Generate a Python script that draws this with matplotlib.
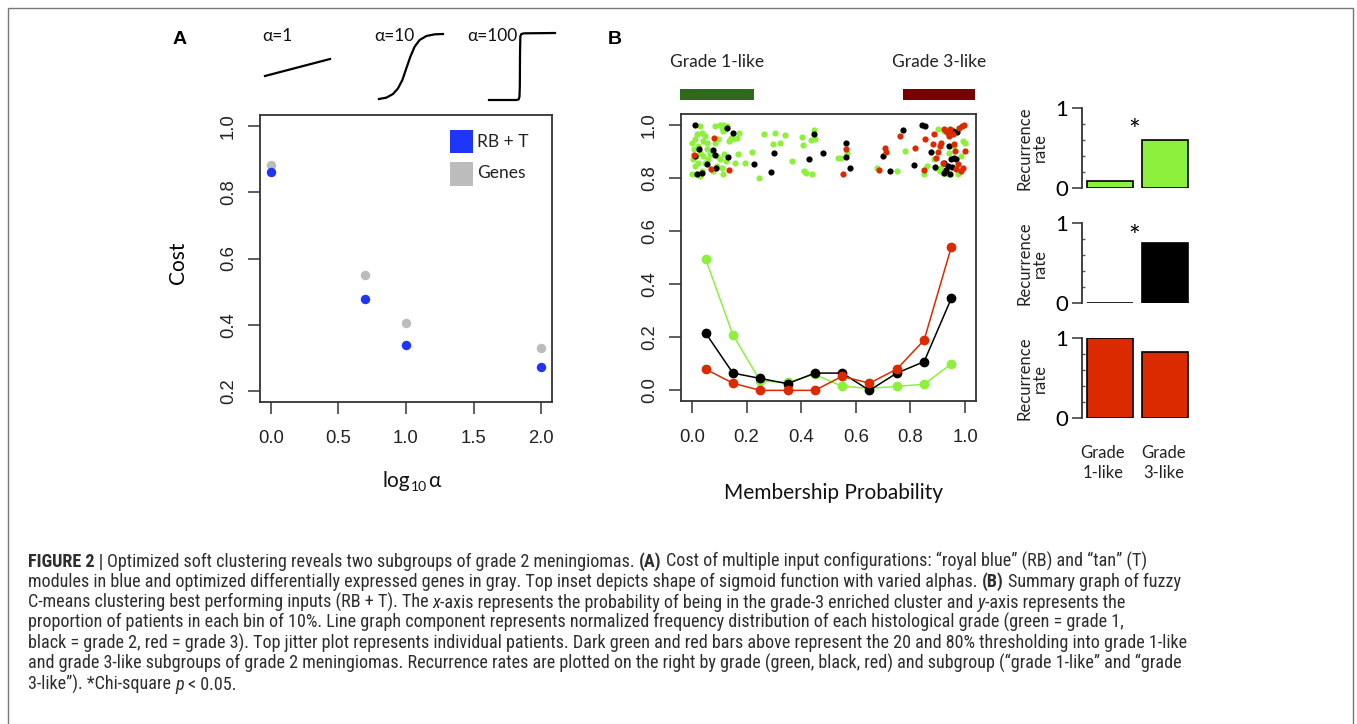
import matplotlib
matplotlib.use('Agg')
import matplotlib.pyplot as plt
import matplotlib.transforms as mtransforms
from matplotlib.patches import Rectangle
from matplotlib import font_manager

# ---------------- data ----------------
# panel A: cost vs log10(alpha), alpha = 1, 5, 10, 100
log_alpha = [0.0, 0.699, 1.0, 2.0]
cost_rbt = [0.86, 0.477, 0.34, 0.272]
cost_genes = [0.882, 0.55, 0.407, 0.33]

# sigmoid shape insets (normalised)
sig1_x = [0.0, 1.0]
sig1_y = [0.0, 1.0]
sig10_x = [0.0, 0.115, 0.219, 0.297, 0.365, 0.427, 0.49, 0.557, 0.635, 0.74, 0.87, 1.0]
sig10_y = [0.0, 0.021, 0.077, 0.164, 0.292, 0.472, 0.651, 0.805, 0.908, 0.969, 0.995, 1.0]
sig100_x = [0.0, 0.416, 0.45, 0.462, 0.467, 0.47, 0.475, 0.49, 0.53, 1.0]
sig100_y = [0.0, 0.0, 0.01, 0.05, 0.2, 0.7, 0.95, 0.985, 0.995, 1.0]
alpha_labels = ['α=1', 'α=10', 'α=100']

# panel B: normalised frequency per 10% bin
bins = [0.05, 0.15, 0.25, 0.35, 0.45, 0.55, 0.65, 0.75, 0.85, 0.95]
freq_g1 = [0.495, 0.209, 0.035, 0.03, 0.06, 0.015, 0.008, 0.015, 0.023, 0.10]
freq_g2 = [0.216, 0.065, 0.045, 0.025, 0.065, 0.065, 0.0, 0.065, 0.108, 0.347]
freq_g3 = [0.08, 0.027, 0.0, 0.0, 0.0, 0.053, 0.027, 0.08, 0.189, 0.541]

# jitter: individual patients (membership probability, jittered height)
jit_g1_x = [0.002, 0.007, 0.011, 0.017, 0.023, 0.029, 0.005, 0.011, 0.017, 0.002, 0.029, 0.036,
            0.042, 0.029, 0.036, 0.048, 0.054, 0.042, 0.048, 0.054, 0.060, 0.066, 0.023, 0.015,
            0.085, 0.103, 0.109, 0.115, 0.121, 0.113, 0.127, 0.097, 0.085, 0.078, 0.091, 0.103,
            0.118, 0.125, 0.091, 0.109, 0.115, 0.078, 0.134, 0.142, 0.152, 0.164, 0.174, 0.158,
            0.167, 0.195, 0.219, 0.244, 0.265, 0.297, 0.303, 0.324, 0.342, 0.366, 0.403, 0.407,
            0.412, 0.419, 0.440, 0.436, 0.446, 0.449, 0.544, 0.569, 0.536, 0.679, 0.752, 0.779,
            0.850, 0.860, 0.887, 0.912, 0.924, 0.936, 0.942, 0.961, 0.975, 0.985, 0.991, 0.998,
            0.961, 0.918, 0.909, 0.900, 0.893]
jit_g1_y = [0.932, 0.907, 0.945, 0.964, 0.919, 0.894, 0.869, 0.844, 0.813, 0.813, 0.806, 0.825,
            0.938, 0.995, 0.970, 0.957, 0.932, 0.882, 0.857, 0.907, 0.869, 0.888, 0.857, 0.882,
            0.995, 1.000, 0.989, 0.997, 0.982, 0.976, 0.995, 0.945, 0.932, 0.894, 0.882, 0.869,
            0.888, 0.863, 0.844, 0.838, 0.813, 0.825, 0.938, 0.951, 0.945, 0.951, 0.967, 0.857,
            0.888, 0.854, 0.897, 0.800, 0.966, 0.927, 0.970, 0.932, 0.961, 0.865, 0.955, 0.922,
            0.825, 0.819, 0.813, 0.942, 0.980, 0.947, 0.875, 0.894, 0.875, 0.838, 0.825, 0.901,
            0.813, 0.844, 0.869, 0.838, 0.976, 0.813, 0.894, 0.919, 0.813, 0.882, 0.938, 0.932,
            0.976, 0.819, 0.825, 0.982, 0.838]
jit_g2_x = [0.010, 0.025, 0.017, 0.037, 0.011, 0.056, 0.078, 0.086, 0.088, 0.127, 0.150, 0.131,
            0.229, 0.290, 0.299, 0.428, 0.446, 0.480, 0.563, 0.565, 0.578, 0.701, 0.725, 0.771,
            0.844, 0.853, 0.814, 0.875, 0.890, 0.924, 0.930, 0.936, 0.942, 0.949, 0.955, 0.961,
            0.971, 0.967, 0.951, 0.924, 0.946]
jit_g2_y = [0.997, 0.907, 0.816, 0.819, 0.882, 0.850, 0.904, 0.884, 0.838, 0.989, 0.970, 0.878,
            0.850, 0.823, 0.894, 0.872, 0.964, 0.892, 0.932, 0.879, 0.836, 0.882, 0.825, 0.979,
            1.000, 0.995, 0.848, 0.898, 0.842, 0.819, 0.831, 0.844, 0.919, 0.869, 0.976, 0.875,
            0.972, 0.869, 0.842, 0.857, 0.816]
jit_g3_x = [0.009, 0.070, 0.081, 0.134, 0.554, 0.563, 0.706, 0.710, 0.685, 0.762, 0.816, 0.850,
            0.854, 0.881, 0.885, 0.893, 0.902, 0.909, 0.918, 0.924, 0.930, 0.936, 0.942, 0.955,
            0.958, 0.963, 0.973, 0.979, 0.988, 0.995, 0.998, 0.991, 0.985, 0.912, 0.946, 0.967]
jit_g3_y = [0.884, 0.834, 0.951, 0.829, 0.813, 0.909, 0.913, 0.897, 0.828, 0.957, 0.913, 0.831,
            0.947, 0.926, 0.964, 0.875, 0.897, 0.919, 0.857, 0.982, 0.976, 0.970, 0.957, 0.964,
            0.926, 0.901, 0.850, 0.989, 0.995, 1.000, 0.901, 0.838, 0.825, 0.932, 0.985, 0.834]

# thresholded subgroups shown as bars above panel B
subgroup_names = ['Grade 1-like', 'Grade 3-like']
subgroup_span = [(-0.045, 0.228), (0.772, 1.037)]

# recurrence rates per grade and subgroup
subgroup_ticks = ['Grade\n1-like', 'Grade\n3-like']
recur_g1 = [0.088, 0.60]
recur_g2 = [0.0, 0.75]
recur_g3 = [1.0, 0.825]
recur_signif = [True, True, False]

caption = [
    [("FIGURE 2 |", 'bold', 'normal'),
     (" Optimized soft clustering reveals two subgroups of grade 2 meningiomas. ", 'normal', 'normal'),
     ("(A)", 'bold', 'normal'),
     (" Cost of multiple input configurations: \u201croyal blue\u201d (RB) and \u201ctan\u201d (T)", 'normal', 'normal')],
    [("modules in blue and optimized differentially expressed genes in gray. Top inset depicts shape of sigmoid function with varied alphas. ", 'normal', 'normal'),
     ("(B)", 'bold', 'normal'),
     (" Summary graph of fuzzy", 'normal', 'normal')],
    [("C-means clustering best performing inputs (RB + T). The ", 'normal', 'normal'),
     ("x", 'normal', 'italic'),
     ("-axis represents the probability of being in the grade-3 enriched cluster and ", 'normal', 'normal'),
     ("y", 'normal', 'italic'),
     ("-axis represents the", 'normal', 'normal')],
    [("proportion of patients in each bin of 10%. Line graph component represents normalized frequency distribution of each histological grade (green = grade 1,", 'normal', 'normal')],
    [("black = grade 2, red = grade 3). Top jitter plot represents individual patients. Dark green and red bars above represent the 20 and 80% thresholding into grade 1-like", 'normal', 'normal')],
    [("and grade 3-like subgroups of grade 2 meningiomas. Recurrence rates are plotted on the right by grade (green, black, red) and subgroup (\u201cgrade 1-like\u201d and \u201cgrade", 'normal', 'normal')],
    [("3-like\u201d). *Chi-square ", 'normal', 'normal'),
     ("p", 'normal', 'italic'),
     (" < 0.05.", 'normal', 'normal')],
]

# ---------------- style ----------------
GREEN = '#8cf03c'
RED = '#dc2a00'
BLUE = '#1f35f8'
GRAY = '#bcbcbc'
DKGREEN = '#2f6a1c'
DKRED = '#780000'
AXC = '#333333'
LABEL_FONT = ['Lato', 'DejaVu Sans']
TICK_FONT = 'Liberation Sans'

W, H = 1357, 724
fig = plt.figure(figsize=(W / 100, H / 100), dpi=100)
renderer = fig.canvas.get_renderer()


def px_axes(left, top, right, bottom):
    return fig.add_axes([left / W, 1 - bottom / H, (right - left) / W, (bottom - top) / H])


def ftext(x, y, s, **kw):
    return fig.text(x / W, 1 - y / H, s, **kw)


def r_axes(ax):
    for sp in ax.spines.values():
        sp.set_color(AXC)
        sp.set_linewidth(1.3)
    ax.tick_params(direction='out', length=8.5, width=1.1, color=AXC, pad=8,
                   labelsize=13.3, labelcolor='#222222')
    ax.tick_params(axis='x', pad=12)
    for lab in ax.get_xticklabels() + ax.get_yticklabels():
        lab.set_family(TICK_FONT)
    for lab in ax.get_yticklabels():
        lab.set_rotation(90)
        lab.set_va('center')


def draw_runs(x, y, runs, size, family, color, va='baseline'):
    probe = dict(fontsize=size, family=family)
    for txt, weight, style in runs:
        a = fig.text(0, 0, 'x x', fontweight=weight, fontstyle=style, **probe)
        b = fig.text(0, 0, 'xx', fontweight=weight, fontstyle=style, **probe)
        sw = a.get_window_extent(renderer).width - b.get_window_extent(renderer).width
        a.remove()
        b.remove()
        lead = len(txt) - len(txt.lstrip(' '))
        trail = len(txt) - len(txt.rstrip(' '))
        core = txt.strip(' ')
        x += lead * sw
        t = ftext(x, y, core, fontweight=weight, fontstyle=style, color=color, ha='left', va=va, **probe)
        x += t.get_window_extent(renderer).width + trail * sw
    return x


# ---------------- panel A ----------------
ftext(180, 40, 'A', fontsize=14, fontweight='bold', family=TICK_FONT, ha='center', va='center')

inset_boxes = [(265, 59, 330, 76), (379, 34, 443, 99), (489, 33, 555, 100)]
inset_curves = [(sig1_x, sig1_y), (sig10_x, sig10_y), (sig100_x, sig100_y)]
label_x = [277, 394, 492]
for box, (cx, cy), lab, lx in zip(inset_boxes, inset_curves, alpha_labels, label_x):
    iax = px_axes(*box)
    iax.plot(cx, cy, color='black', lw=1.6, clip_on=False, solid_joinstyle='round')
    iax.set_xlim(0, 1)
    iax.set_ylim(0, 1)
    iax.axis('off')
    ftext(lx, 36, lab, fontsize=12.5, family=LABEL_FONT, ha='center', va='center', color='#111111')

axA = px_axes(260, 115, 552, 402)
axA.plot(log_alpha, cost_genes, 'o', color=GRAY, ms=6.8, mec='none')
axA.plot(log_alpha, cost_rbt, 'o', color=BLUE, ms=6.8, mec='none')
axA.set_xlim(-0.08, 2.08)
axA.set_ylim(0.168, 1.032)
axA.set_xticks([0.0, 0.5, 1.0, 1.5, 2.0])
axA.set_xticklabels(['0.0', '0.5', '1.0', '1.5', '2.0'])
axA.set_yticks([0.2, 0.4, 0.6, 0.8, 1.0])
axA.set_yticklabels(['0.2', '0.4', '0.6', '0.8', '1.0'])
r_axes(axA)

# legend
for (y0, y1), col, name, ty in [((0.869, 0.948), BLUE, 'RB + T', 0.906),
                                 ((0.751, 0.837), GRAY, 'Genes', 0.798)]:
    axA.add_patch(Rectangle((0.651, y0), 0.078, y1 - y0, transform=axA.transAxes,
                            color=col, lw=0))
    axA.text(0.743, ty, name, transform=axA.transAxes, fontsize=12.5, family=LABEL_FONT,
             va='center', ha='left', color='#222222')

ftext(178, 263, 'Cost', fontsize=15, family=LABEL_FONT, rotation=90, ha='center', va='center')

xx = draw_runs(383, 487, [('log', 'normal', 'normal')], 15, LABEL_FONT, '#111111')
xx = draw_runs(xx, 491, [('10', 'normal', 'normal')], 10, LABEL_FONT, '#111111')
draw_runs(xx + 1, 487, [('α', 'normal', 'normal')], 15, LABEL_FONT, '#111111')

# ---------------- panel B ----------------
ftext(615, 40, 'B', fontsize=14, fontweight='bold', family=TICK_FONT, ha='center', va='center')

axB = px_axes(681, 114, 976, 401)
axB.scatter(jit_g1_x, jit_g1_y, s=20, color=GREEN, lw=0, zorder=3)
axB.scatter(jit_g2_x, jit_g2_y, s=20, color='black', lw=0, zorder=3)
axB.scatter(jit_g3_x, jit_g3_y, s=20, color=RED, lw=0, zorder=3)
axB.plot(bins, freq_g1, '-o', color=GREEN, lw=1.1, ms=6, zorder=4)
axB.plot(bins, freq_g2, '-o', color='black', lw=1.1, ms=6, zorder=4)
axB.plot(bins, freq_g3, '-o', color=RED, lw=1.1, ms=6, zorder=4)
axB.set_xlim(-0.04, 1.04)
axB.set_ylim(-0.04, 1.04)
axB.set_xticks([0.0, 0.2, 0.4, 0.6, 0.8, 1.0])
axB.set_xticklabels(['0.0', '0.2', '0.4', '0.6', '0.8', '1.0'])
axB.set_yticks([0.0, 0.2, 0.4, 0.6, 0.8, 1.0])
axB.set_yticklabels(['0.0', '0.2', '0.4', '0.6', '0.8', '1.0'])
r_axes(axB)

blend = mtransforms.blended_transform_factory(axB.transData, axB.transAxes)
for (x0, x1), col, name in zip(subgroup_span, [DKGREEN, DKRED], subgroup_names):
    axB.add_patch(Rectangle((x0, 1.049), x1 - x0, 0.038, transform=blend, color=col,
                            lw=0, clip_on=False))
    axB.text((x0 + x1) / 2, 1.181, name, transform=blend, fontsize=12.5, family=LABEL_FONT,
             ha='center', va='center', color='#222222')

ftext(833, 493, 'Membership Probability', fontsize=15, family=LABEL_FONT, ha='center', va='center',
      color='#111111')

# ---------------- recurrence bars ----------------
bar_rows = [(108.3, 187.7, recur_g1, GREEN), (222.7, 303.3, recur_g2, 'black'),
            (338.3, 418.3, recur_g3, RED)]
star_y = [0.70, 0.81, None]
for (top, bot, vals, col), sig, sy in zip(bar_rows, recur_signif, star_y):
    ax = px_axes(1082, top, 1192, bot)
    ax.bar([0, 1], vals, width=0.84, color=col, edgecolor='black', lw=1.2)
    ax.set_xlim(-0.51, 1.5)
    ax.set_ylim(0, 1)
    for s in ['top', 'right', 'bottom']:
        ax.spines[s].set_visible(False)
    ax.spines['left'].set_color(AXC)
    ax.spines['left'].set_linewidth(1.3)
    ax.set_xticks([])
    ax.set_yticks([0, 1])
    ax.set_yticklabels(['0', '1'])
    ax.set_yticks([0.2, 0.4, 0.6, 0.8], minor=True)
    ax.tick_params(axis='y', which='major', direction='out', length=7, width=1.1, color=AXC,
                   labelsize=16, pad=3)
    ax.tick_params(axis='y', which='minor', direction='in', length=2.5, width=1, color='#555555')
    for lab in ax.get_yticklabels():
        lab.set_family(LABEL_FONT)
    ax.patch.set_visible(False)
    if sig:
        ax.text(0.44, sy, '*', fontsize=20, family=LABEL_FONT, ha='center', va='center')
    ftext(1032, (top + bot) / 2, 'Recurrence\nrate', fontsize=12, family=LABEL_FONT, rotation=90,
          ha='center', va='center', multialignment='center', linespacing=0.95, color='#222222')

for xc, lab in zip([1103, 1164], subgroup_ticks):
    ftext(xc, 463, lab, fontsize=12, family=LABEL_FONT, ha='center', va='center',
          multialignment='center', linespacing=1.35, color='#222222')


# ---------------- caption ----------------
def has_font(name):
    try:
        font_manager.findfont(font_manager.FontProperties(family=name), fallback_to_default=False)
        return True
    except Exception:
        return False


cap_family = 'Liberation Sans'
for cand in ['Liberation Sans Narrow', 'Roboto Condensed']:
    if has_font(cand):
        cap_family = cand
        break
# size the caption so the first line spans the same width as in the paper
n_before = len(fig.texts)
probe_end = draw_runs(0, -100, caption[0], 10, cap_family, '#333333')
for t in list(fig.texts)[n_before:]:
    t.remove()
cap_size = 10 * 1116 / probe_end
for i, runs in enumerate(caption):
    draw_runs(28, 566.7 + 20.5 * i, runs, cap_size, cap_family, '#2e2e2e')

# frame around the figure
fig.add_artist(Rectangle((8 / W, -0.1), (1353 - 8) / W, 1.1 - 8 / H, transform=fig.transFigure,
                         fill=False, ec='#777777', lw=1))

fig.savefig('out.png', dpi=100)
